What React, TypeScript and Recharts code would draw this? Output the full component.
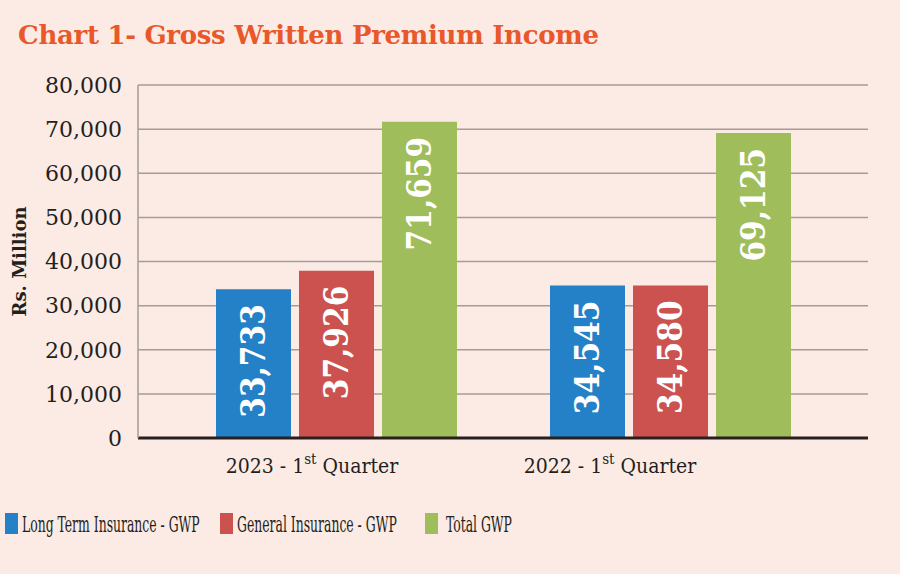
import { BarChart, Bar, XAxis, YAxis, CartesianGrid, LabelList } from 'recharts'

const categories = ['2023 - 1st Quarter', '2022 - 1st Quarter']
const longTermGwp = [33733, 34545]
const generalGwp = [37926, 34580]
const totalGwp = [71659, 69125]
const yTicks = [0, 10000, 20000, 30000, 40000, 50000, 60000, 70000, 80000]

const seriesNames = ['Long Term Insurance - GWP', 'General Insurance - GWP', 'Total GWP']
const seriesColors = ['#2481c7', '#cb524f', '#9fbd5b']

const data = categories.map((c, i) => ({
  category: c,
  longTerm: longTermGwp[i],
  general: generalGwp[i],
  total: totalGwp[i],
}))

const BG = '#fcebe5'
const SLAB = "'DejaVu Serif', serif"
const SLAB_COND = "'DejaVu Serif Condensed', 'DejaVu Serif', serif"

const fmt = (v: number) => v.toLocaleString('en-US')

// the labels sit a little left of the bar groups in the original
const TICK_SHIFT = [-24, -60]

function CategoryTick(props: any) {
  const { x, y, payload, index } = props
  const m = String(payload.value).match(/^(.*\d)(st|nd|rd|th)(\s.*)$/)
  const shift = TICK_SHIFT[index] ?? 0
  return (
    <text
      x={x + shift}
      y={y + 27}
      textAnchor="middle"
      fill="#231f20"
      fontFamily={SLAB_COND}
      fontSize={21}
    >
      {m ? (
        <>
          <tspan>{m[1]}</tspan>
          <tspan fontSize={15} dy={-9}>{m[2]}</tspan>
          <tspan dy={9}>{m[3]}</tspan>
        </>
      ) : (
        payload.value
      )}
    </text>
  )
}

function BarValue(props: any) {
  const { x, y, width, value } = props
  const cx = x + width / 2
  const ty = y + 15
  return (
    <text
      x={cx}
      y={ty}
      transform={`rotate(-90 ${cx} ${ty})`}
      textAnchor="end"
      dominantBaseline="central"
      fill="#ffffff"
      fontFamily={SLAB_COND}
      fontWeight="bold"
      fontSize={33}
    >
      {fmt(value)}
    </text>
  )
}

function LegendRow() {
  const items = [
    { x: 5, tx: 22 },
    { x: 220, tx: 237 },
    { x: 425, tx: 446 },
  ]
  const squeeze = 0.6
  return (
    <svg width={900} height={40} style={{ position: 'absolute', left: 0, top: 505 }}>
      {seriesNames.map((name, i) => (
        <g key={name}>
          <rect x={items[i].x} y={8} width={13} height={21} fill={seriesColors[i]} />
          <g transform={`translate(${items[i].tx} 27) scale(${squeeze} 1)`}>
            <text x={0} y={0} fill="#231f20" fontFamily={SLAB_COND} fontSize={23}>
              {name}
            </text>
          </g>
        </g>
      ))}
    </svg>
  )
}

export default function App() {
  return (
    <div
      style={{
        position: 'absolute',
        left: 0,
        top: 0,
        width: 900,
        height: 574,
        background: BG,
        overflow: 'hidden',
      }}
    >
      <div
        style={{
          position: 'absolute',
          left: 18,
          top: 20,
          color: '#e8582a',
          fontFamily: SLAB,
          fontWeight: 'bold',
          fontSize: 26,
          whiteSpace: 'nowrap',
          letterSpacing: -0.3,
        }}
      >
        Chart 1- Gross Written Premium Income
      </div>
      <BarChart
        width={900}
        height={574}
        data={data}
        margin={{ top: 85, right: 32, bottom: 96, left: 0 }}
        barSize={75}
        barGap={8}
      >
        <CartesianGrid vertical={false} stroke="#a39c9a" strokeWidth={1.5} />
        <XAxis
          dataKey="category"
          height={40}
          padding={{ left: 31, right: 31 }}
          axisLine={{ stroke: '#2a1f1f', strokeWidth: 3 }}
          tickLine={false}
          tick={<CategoryTick />}
          interval={0}
        />
        <YAxis
          width={138}
          domain={[0, 80000]}
          ticks={yTicks}
          tickFormatter={fmt}
          axisLine={{ stroke: '#a39c9a', strokeWidth: 1.5 }}
          tickLine={false}
          tickMargin={10}
          tick={{ fill: '#231f20', fontSize: 22, fontFamily: SLAB }}
          label={{
            value: 'Rs. Million',
            angle: -90,
            position: 'insideLeft',
            offset: 20,
            style: {
              fill: '#231f20',
              fontSize: 18,
              fontWeight: 'bold',
              fontFamily: SLAB,
              textAnchor: 'middle',
            },
          }}
        />
        <Bar dataKey="longTerm" name={seriesNames[0]} fill={seriesColors[0]} isAnimationActive={false}>
          <LabelList dataKey="longTerm" content={<BarValue />} />
        </Bar>
        <Bar dataKey="general" name={seriesNames[1]} fill={seriesColors[1]} isAnimationActive={false}>
          <LabelList dataKey="general" content={<BarValue />} />
        </Bar>
        <Bar dataKey="total" name={seriesNames[2]} fill={seriesColors[2]} isAnimationActive={false}>
          <LabelList dataKey="total" content={<BarValue />} />
        </Bar>
      </BarChart>
      <LegendRow />
    </div>
  )
}
